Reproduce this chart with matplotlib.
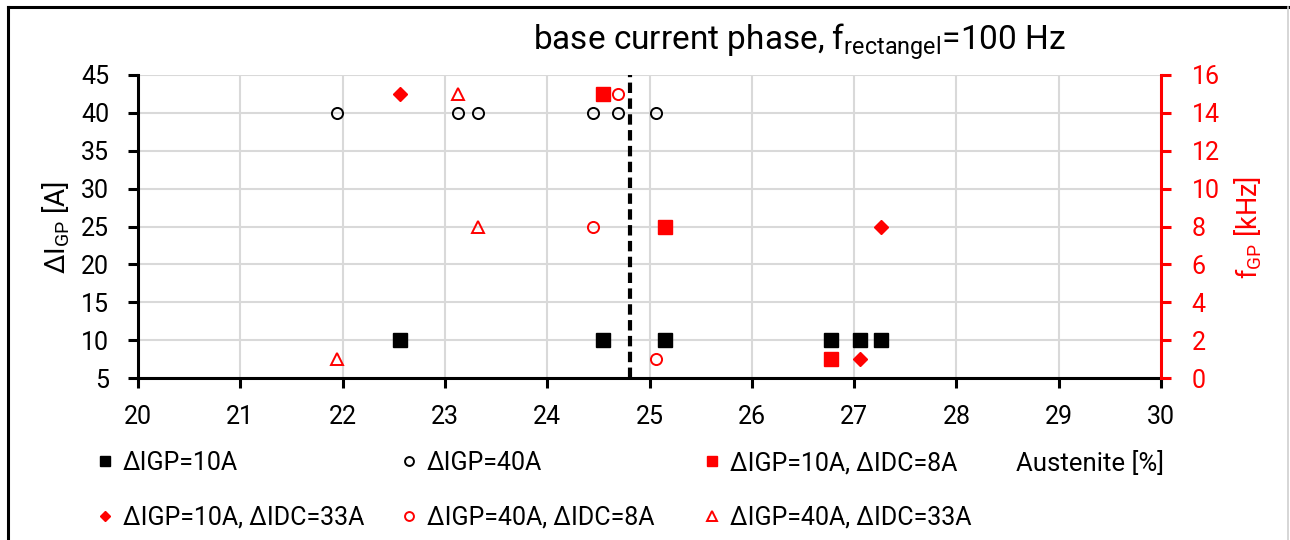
import matplotlib
matplotlib.use("Agg")
import matplotlib.pyplot as plt
from matplotlib.lines import Line2D

FONT = "Roboto"
plt.rcParams['font.family'] = [FONT, 'DejaVu Sans']
plt.rcParams['mathtext.fontset'] = 'custom'
plt.rcParams['mathtext.rm'] = FONT
plt.rcParams['mathtext.it'] = FONT
plt.rcParams['mathtext.bf'] = FONT
plt.rcParams['mathtext.default'] = 'regular'

# ---- data ----
x_igp10 = [22.56, 24.55, 25.15, 26.77, 27.06, 27.26]
y_igp10 = [10, 10, 10, 10, 10, 10]
x_igp40 = [21.95, 23.13, 23.32, 24.45, 24.69, 25.06]
y_igp40 = [40, 40, 40, 40, 40, 40]
x_10_8 = [24.55, 25.15, 26.77]
f_10_8 = [15, 8, 1]
x_10_33 = [22.56, 27.26, 27.06]
f_10_33 = [15, 8, 1]
x_40_8 = [24.69, 24.45, 25.06]
f_40_8 = [15, 8, 1]
x_40_33 = [23.13, 23.32, 21.95]
f_40_33 = [15, 8, 1]
x_threshold = 24.81

labels = ["ΔIGP=10A", "ΔIGP=40A", "ΔIGP=10A, ΔIDC=8A",
          "ΔIGP=10A, ΔIDC=33A", "ΔIGP=40A, ΔIDC=8A", "ΔIGP=40A, ΔIDC=33A"]
xticks = list(range(20, 31))
yticks_left = list(range(5, 50, 5))
yticks_right = list(range(0, 18, 2))

W, H = 1290, 540
RED = '#FF0000'
fig = plt.figure(figsize=(W/100, H/100), dpi=100)
ax = fig.add_axes([138/W, 1-378/H, (1161-138)/W, (378-75)/H])
ax2 = ax.twinx()

ax.set_xlim(20, 30)
ax.set_ylim(5, 45)
ax2.set_ylim(0, 16)
ax.set_xticks(xticks)
ax.set_yticks(yticks_left)
ax2.set_yticks(yticks_right)

ax.grid(True, color='#d9d9d9', lw=1.5, zorder=0)
ax.set_axisbelow(True)

for s in ['top', 'right']:
    ax.spines[s].set_visible(False)
for s in ['top', 'left', 'bottom']:
    ax2.spines[s].set_visible(False)
ax.spines['left'].set_linewidth(2.2)
ax.spines['bottom'].set_linewidth(2.2)
ax2.spines['right'].set_color(RED)
ax2.spines['right'].set_linewidth(2.2)

ax.tick_params(axis='y', direction='out', length=7.2, width=2.2, labelsize=18, pad=13.5)
ax.tick_params(axis='x', direction='out', length=7.2, width=2.2, labelsize=18, pad=12)
ax2.tick_params(axis='y', direction='out', length=7.2, width=2.2, labelsize=18,
                colors=RED, pad=15)

ms_sq = 9.5
h1, = ax.plot(x_igp10, y_igp10, ls='none', marker='s', ms=ms_sq, color='black', zorder=3)
h2, = ax.plot(x_igp40, y_igp40, ls='none', marker='o', ms=8, mfc='none',
              mec='black', mew=1.4, zorder=3)
ax.axvline(x_threshold, color='black', lw=3, dashes=(2.5, 1.3), zorder=4)

h3, = ax2.plot(x_10_8, f_10_8, ls='none', marker='s', ms=ms_sq, color=RED, zorder=3)
h4, = ax2.plot(x_10_33, f_10_33, ls='none', marker='D', ms=7, color=RED, zorder=3)
h5, = ax2.plot(x_40_8, f_40_8, ls='none', marker='o', ms=8, mfc='none',
               mec=RED, mew=1.4, zorder=3)
h6, = ax2.plot(x_40_33, f_40_33, ls='none', marker='^', ms=8.5, mfc='none',
               mec=RED, mew=1.4, zorder=3)

ycen = 1 - 227/H
ax.set_ylabel('ΔI$_{GP}$ [A]', fontsize=20)
ax.yaxis.set_label_coords(56/W, ycen, transform=fig.transFigure)
ax2.set_ylabel('f$_{GP}$ [kHz]', fontsize=19.5, color=RED)
ax2.yaxis.set_label_coords(1248/W, ycen, transform=fig.transFigure)
ax.yaxis.label.set_va('center')
ax2.yaxis.label.set_va('center')

fig.text(799/W, 1-50/H, 'base current phase, f$_{rectangel}$=100 Hz',
         ha='center', va='baseline', fontsize=24)
fig.text(1164/W, 1-471/H, 'Austenite [%]', ha='right', va='baseline', fontsize=18.5)

handles = [h1, h2, h3, h4, h5, h6]
col_x = [97, 401, 704]
row_y = [463, 518]
for i, (h, lab) in enumerate(zip(handles, labels)):
    r, c = divmod(i, 3)
    fig.legend([h], [lab], loc='center left',
               bbox_to_anchor=(col_x[c]/W, 1-row_y[r]/H),
               frameon=False, fontsize=18, markerscale=0.8,
               handlelength=0.65, handletextpad=0.38,
               borderaxespad=0, borderpad=0)

# chart area border (black top/left, light gray right)
fig.add_artist(Line2D([8/W, 1], [1-7/H, 1-7/H], transform=fig.transFigure,
                      color='black', lw=2.2))
fig.add_artist(Line2D([8/W, 8/W], [0, 1-7/H], transform=fig.transFigure,
                      color='black', lw=2.2))
fig.add_artist(Line2D([1288/W, 1288/W], [0, 1-7/H], transform=fig.transFigure,
                      color='#d0d0d0', lw=1.2))

fig.savefig('out.png', dpi=100)
